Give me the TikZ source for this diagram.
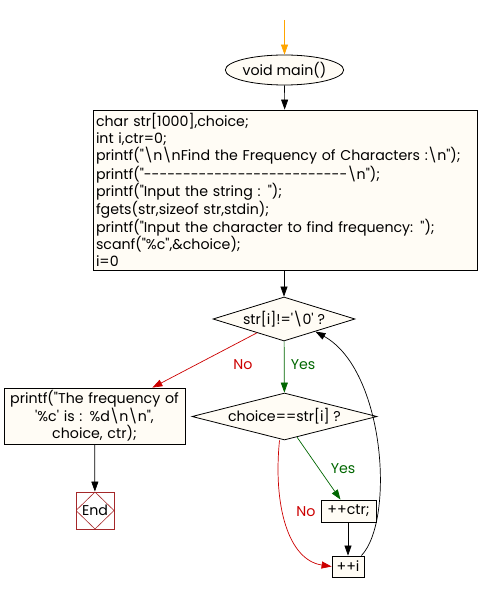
\documentclass[tikz,border=0pt]{standalone}
\usepackage{fontspec}
\setmainfont{Poppins}[Ligatures=TeXOff]
\usetikzlibrary{shapes.geometric,arrows.meta,calc}
\definecolor{boxfill}{RGB}{255,252,245}
\definecolor{noRed}{RGB}{204,0,0}
\definecolor{yesGreen}{RGB}{0,102,0}
\definecolor{startOrange}{RGB}{255,165,0}
\definecolor{endRed}{RGB}{165,40,42}
\tikzset{
  txt/.style={font=\fontsize{14.2}{17}\selectfont},
  base/.style={draw, line width=0.8pt, fill=boxfill, txt},
  procbox/.style={base, rectangle, inner sep=0pt},
  decision/.style={base, diamond, inner sep=0pt},
  startshape/.style={base, ellipse, inner sep=0pt, minimum width=103pt, minimum height=30pt},
  endbox/.style={draw=endRed, line width=0.8pt, fill=white, rectangle, minimum width=38pt, minimum height=37pt, inner sep=0pt, txt,
    path picture={\draw[endRed, line width=0.6pt] (path picture bounding box.north) -- (path picture bounding box.east) -- (path picture bounding box.south) -- (path picture bounding box.west) -- cycle;}},
  conn/.style={line width=0.7pt, -{Triangle[length=10pt,width=7pt]}},
  lbl/.style={txt, inner sep=0pt}
}
\begin{document}
\begin{tikzpicture}[x=1pt,y=-1pt]
\useasboundingbox (0,0) rectangle (478,593);
\coordinate (start) at (284.5,20);
\node[startshape] (main) at (284.5,70) {void main()};
\node[procbox, text width=378pt, inner xsep=3pt, minimum height=160pt, align=left] (init) at (285,190) {%
char str[1000],choice;\\
int i,ctr=0;\\
printf("\textbackslash n\textbackslash nFind the Frequency of Characters :\textbackslash n");\\
printf("--------------------------\textbackslash n");\\
printf("Input the string : ");\\
fgets(str,sizeof str,stdin);\\
printf("Input the character to find frequency: ");\\
scanf("\%c",\&choice);\\
i=0};
\node[decision, aspect=3.2, minimum width=142pt, minimum height=44pt] (cond1) at (284,319) {str[i]!='\textbackslash 0' ?};
\node[decision, aspect=4, minimum width=185pt, minimum height=47pt] (cond2) at (284.5,416.5) {choice==str[i] ?};
\node[procbox, minimum width=181pt, minimum height=56pt, text width=178pt, align=center] (out) at (94.5,416) {printf("The frequency of\\ '\%c' is : \%d\textbackslash n\textbackslash n",\\ choice, ctr);};
\node[endbox] (end) at (95,510.5) {End};
\node[procbox, minimum width=55pt, minimum height=22pt] (ctr) at (348.5,511) {++ctr;};
\node[procbox, minimum width=32pt, minimum height=21pt] (inc) at (348,566.5) {++i};

\draw[conn, startOrange] (start) -- (main);
\draw[conn] (main) -- (init);
\draw[conn] (init.south -| cond1.north) -- (cond1);
\draw[conn, yesGreen] (cond1) -- (cond2);
\node[lbl, yesGreen] (yes1) at (303,365) {Yes};
\draw[conn, noRed] ($(cond1.south)!0.38!(cond1.west)$) -- ([xshift=-33pt]out.north east);
\node[lbl, noRed] (no1) at (243,365) {No};
\draw[conn] (out) -- (end);
\draw[conn, yesGreen] ($(cond2.south)!0.135!(cond2.east)$) -- ([xshift=-8pt]ctr.north);
\node[lbl, yesGreen] (yes2) at (343,469) {Yes};
\draw[conn] (ctr.south -| inc.north) -- (inc);
\draw[conn, noRed] ([xshift=-5pt]cond2.south) .. controls (273,505) and (288,560) .. (inc.west);
\node[lbl, noRed] (no2) at (306,512) {No};
\draw[conn] ([xshift=-3pt]inc.north east) .. controls (395,520) and (385,370) .. ($(cond1.south)!0.44!(cond1.east)$);
\end{tikzpicture}
\end{document}
